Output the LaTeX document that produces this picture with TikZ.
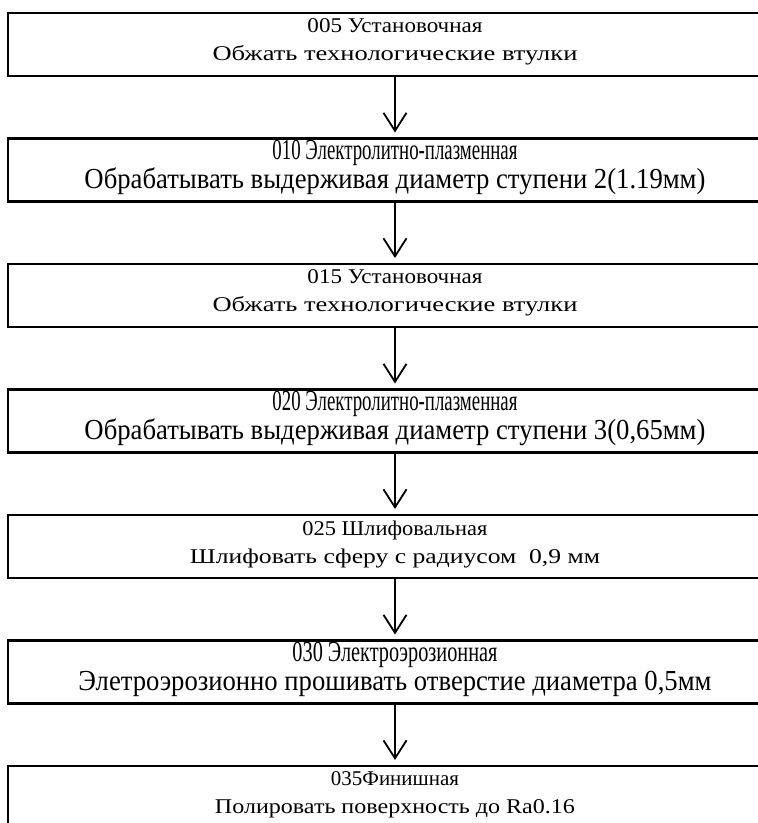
\documentclass[tikz,border=0pt]{standalone}
\usepackage{fontspec}
\setmainfont{Liberation Serif}
\usetikzlibrary{positioning,arrows.meta}

% one line of an operation box, set to a given width
\newcommand{\opline}[2]{\raisebox{2.5pt}[\height][\depth]{\resizebox{#1}{\height}{#2}}}

\begin{document}
\begin{tikzpicture}[
    x=1pt,y=1pt,
    opbox/.style={draw,line width=2.6pt,minimum width=774pt,minimum height=63pt,
        inner sep=0pt,outer sep=0pt,align=center,font=\fontsize{21}{28}\selectfont},
    optall/.style={opbox,font=\fontsize{29}{29}\selectfont},
    flow/.style={line width=1.8pt,-{Straight Barb[length=18pt,width=23pt,line width=1.8pt]}}
]
    % Frame
    \useasboundingbox (0,0) rectangle (758,-823);
    % Operations
    \node[opbox,anchor=north west] (op005) at (8,-13)
        {\opline{175pt}{005 Установочная}\\\opline{365pt}{Обжать технологические втулки}};
    \node[optall,below=62.5pt of op005] (op010)
        {\opline{245pt}{010 Электролитно-плазменная}\\\opline{621pt}{Обрабатывать выдерживая диаметр ступени 2(1.19мм)}};
    \node[opbox,below=62.5pt of op010] (op015)
        {\opline{175pt}{015 Установочная}\\\opline{365pt}{Обжать технологические втулки}};
    \node[optall,below=62.5pt of op015] (op020)
        {\opline{245pt}{020 Электролитно-плазменная}\\\opline{621pt}{Обрабатывать выдерживая диаметр ступени 3(0,65мм)}};
    \node[opbox,below=62.5pt of op020] (op025)
        {\opline{185pt}{025 Шлифовальная}\\\opline{410pt}{Шлифовать сферу с радиусом\ \ 0,9 мм}};
    \node[optall,below=62.5pt of op025] (op030)
        {\opline{205pt}{030 Электроэрозионная}\\\opline{633pt}{Элетроэрозионно прошивать отверстие диаметра 0,5мм}};
    \node[opbox,below=62.5pt of op030] (op035)
        {\opline{128pt}{035Финишная}\\\opline{360pt}{Полировать поверхность до Ra0.16}};
    % Arrows
    \draw[flow] (op005.south) -- ([yshift=6pt]op010.north);
    \draw[flow] (op010.south) -- ([yshift=6pt]op015.north);
    \draw[flow] (op015.south) -- ([yshift=6pt]op020.north);
    \draw[flow] (op020.south) -- ([yshift=6pt]op025.north);
    \draw[flow] (op025.south) -- ([yshift=6pt]op030.north);
    \draw[flow] (op030.south) -- ([yshift=6pt]op035.north);
\end{tikzpicture}
\end{document}
